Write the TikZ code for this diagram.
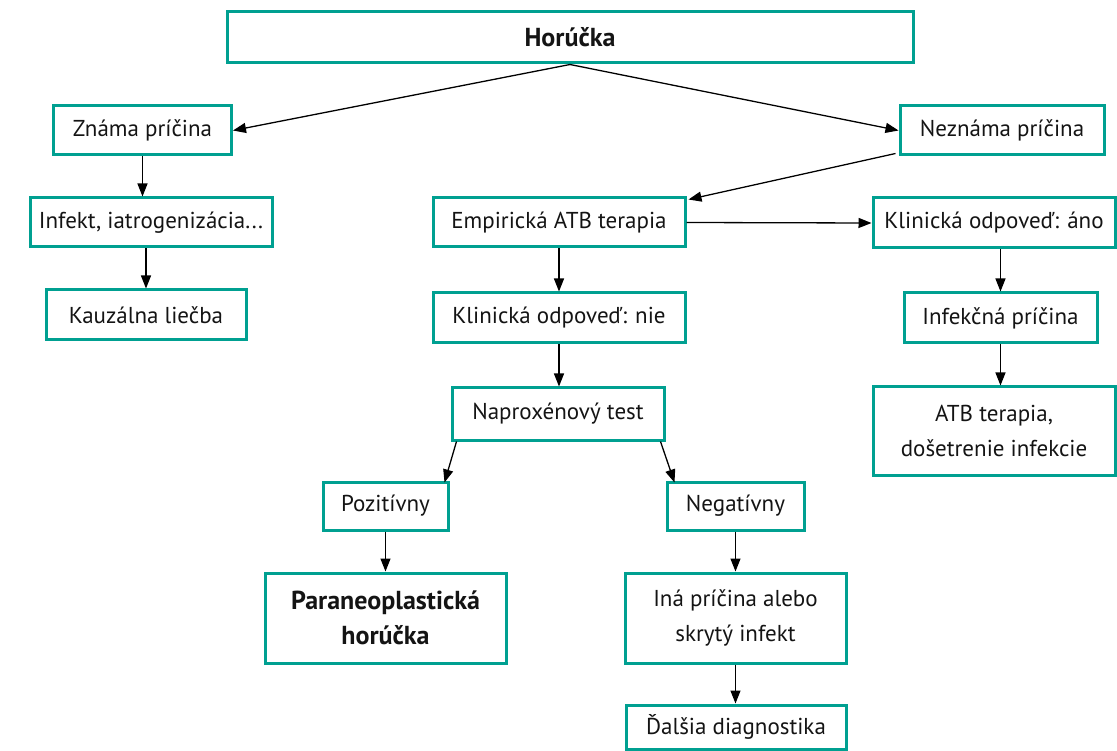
\documentclass[tikz,border=0pt]{standalone}
\usepackage{fontspec}
\setmainfont{PT Sans}
\usetikzlibrary{arrows.meta}
\definecolor{boxteal}{RGB}{0, 160, 145}
\definecolor{mydark}{RGB}{20, 20, 20}
\newcommand{\boldlabel}[1]{{\fontsize{26}{35}\selectfont\bfseries #1}}

\begin{document}
\begin{tikzpicture}[x=1pt, y=-1pt]
\tikzset{flowbox/.style={draw=boxteal, line width=3pt, inner sep=0, align=center, text=mydark,
    font=\fontsize{23}{35}\selectfont},
    flowarrow/.style={-{Triangle[length=13pt, width=10pt]}, line width=1.3pt, black}}

\useasboundingbox (0, 0) rectangle (1117, 751);

\node[flowbox, minimum width=686, minimum height=51] (fever) at (570, 37.5) {\boldlabel{Horúčka}};

\node[flowbox, minimum width=178, minimum height=49] (known) at (142.5, 130.5) {Známa príčina};
\node[flowbox, minimum width=204, minimum height=49] (unknown) at (1002, 130.5) {Neznáma príčina};

% left branch
\node[flowbox, minimum width=242, minimum height=49] (infect) at (151, 222.5) {Infekt, iatrogenizácia...};
\node[flowbox, minimum width=200, minimum height=50] (causal) at (146, 315) {Kauzálna liečba};

% middle branch
\node[flowbox, minimum width=252, minimum height=49] (empiric) at (559, 222.5) {Empirická ATB terapia};
\node[flowbox, minimum width=252, minimum height=50] (respno) at (559, 318) {Klinická odpoveď: nie};
\node[flowbox, minimum width=212, minimum height=52] (naprox) at (558, 414) {Naproxénový test};
\node[flowbox, minimum width=125, minimum height=48] (positive) at (385.5, 506) {Pozitívny};
\node[flowbox, minimum width=137, minimum height=48] (negative) at (735.5, 506) {Negatívny};
\node[flowbox, minimum width=241, minimum height=90] (paraneo) at (385.5, 618) {\boldlabel{Paraneoplastická}\\\boldlabel{horúčka}};
\node[flowbox, minimum width=221, minimum height=90] (other) at (735.5, 618) {Iná príčina alebo\\skrytý infekt};
\node[flowbox, minimum width=220, minimum height=44] (further) at (736, 727) {Ďalšia diagnostika};

% right branch
\node[flowbox, minimum width=242, minimum height=50] (respyes) at (994, 223) {Klinická odpoveď: áno};
\node[flowbox, minimum width=193, minimum height=50] (infcause) at (1000.5, 318) {Infekčná príčina};
\node[flowbox, minimum width=242, minimum height=88] (atb) at (994, 431) {ATB terapia,\\došetrenie infekcie};

\draw[flowarrow] (fever.south) -- (known.east);
\draw[flowarrow] (fever.south) -- (unknown.west);
\draw[flowarrow] (known.south) -- (known.south |- infect.north);
\draw[flowarrow] (causal.north |- infect.south) -- (causal.north);
\draw[flowarrow] ([xshift=-3, yshift=3]unknown.south west) -- ([xshift=2, yshift=-3]empiric.north east);
\draw[flowarrow] (empiric.east) -- (respyes.west);
\draw[flowarrow] (empiric.south) -- (respno.north);
\draw[flowarrow] (respno.south) -- (respno.south |- naprox.north);
\draw[flowarrow] ([xshift=6]naprox.south west) -- ([xshift=-5, yshift=-2]positive.north east);
\draw[flowarrow] ([xshift=-5]naprox.south east) -- ([xshift=9, yshift=-2]negative.north west);
\draw[flowarrow] (positive.south) -- (paraneo.north);
\draw[flowarrow] (negative.south) -- (negative.south |- other.north);
\draw[flowarrow] (other.south) -- (other.south |- further.north);
\draw[flowarrow] (respyes.south -| infcause.north) -- (infcause.north);
\draw[flowarrow] (infcause.south) -- (infcause.south |- atb.north);
\end{tikzpicture}
\end{document}
